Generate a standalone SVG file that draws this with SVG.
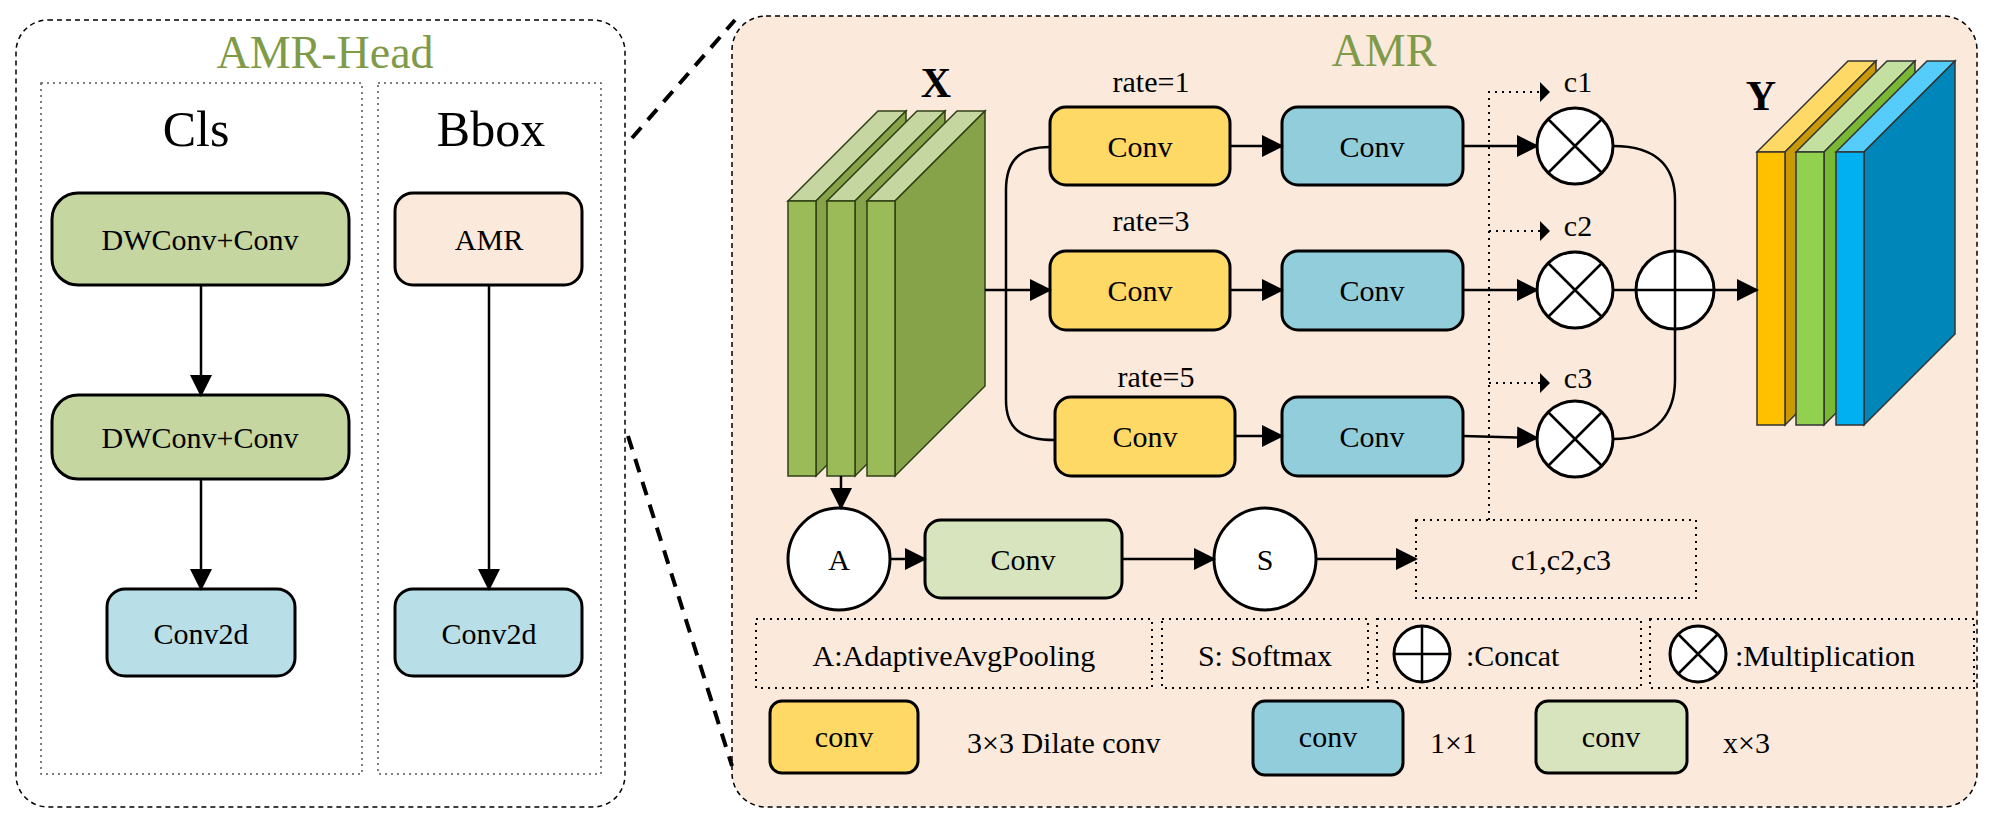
<svg xmlns="http://www.w3.org/2000/svg" width="1995" height="819" viewBox="0 0 1995 819">
<defs>
<marker id="ah" markerWidth="10" markerHeight="10" refX="9" refY="5" orient="auto" markerUnits="userSpaceOnUse" viewBox="0 0 10 10"><path d="M0,0 L10,5 L0,10 z" fill="#000"/></marker>
<marker id="ahb" markerWidth="22" markerHeight="22" refX="20" refY="11" orient="auto" markerUnits="userSpaceOnUse"><path d="M0,0 L22,11 L0,22 z" fill="#000"/></marker>
<style>
text{font-family:"Liberation Serif","Times New Roman",serif;fill:#000}
.t{font-size:30px;text-anchor:middle}
.box{stroke:#000;stroke-width:3}
.ln{stroke:#000;stroke-width:2.5;fill:none}
.dot{stroke:#555;stroke-width:1.5;stroke-dasharray:2 4;fill:none}
.dotb{stroke:#000;stroke-width:2;stroke-dasharray:2 5;fill:none}
.dash{stroke:#000;stroke-width:4;stroke-dasharray:14 10;fill:none}
.circ{fill:#fff;stroke:#000;stroke-width:3}
.green{fill:#7f9a48}
</style>
</defs>
<!-- left panel -->
<g id="amr-head">
<rect x="16" y="20" width="609" height="787" rx="32" fill="#fff" stroke="#000" stroke-width="1.5" stroke-dasharray="5 4"/>
<text x="325" y="68" class="green" font-size="46" text-anchor="middle" style="fill:#7f9a48">AMR-Head</text>
<rect x="41" y="83" width="321" height="691" class="dot"/>
<rect x="378" y="83" width="223" height="691" class="dot"/>
<text x="196" y="146" font-size="50" text-anchor="middle">Cls</text>
<text x="491" y="146" font-size="50" text-anchor="middle">Bbox</text>
</g>
<g id="dw1"><rect x="52" y="193" width="297" height="92" rx="26" fill="#c5d6a0" class="box"/><text x="200" y="250" class="t">DWConv+Conv</text></g>
<g id="dw2"><rect x="52" y="395" width="297" height="84" rx="26" fill="#c5d6a0" class="box"/><text x="200" y="448" class="t">DWConv+Conv</text></g>
<g id="conv2d-l"><rect x="107" y="589" width="188" height="87" rx="18" fill="#b8dfe8" class="box"/><text x="201" y="644" class="t">Conv2d</text></g>
<g id="amr-box"><rect x="395" y="193" width="187" height="92" rx="18" fill="#fbe9dc" class="box"/><text x="489" y="250" class="t">AMR</text></g>
<g id="conv2d-r"><rect x="395" y="589" width="187" height="87" rx="18" fill="#b8dfe8" class="box"/><text x="489" y="644" class="t">Conv2d</text></g>

<!-- right panel -->
<g id="amr">
<rect x="732" y="16" width="1245" height="791" rx="34" fill="#fbe9dc" stroke="#000" stroke-width="1.5" stroke-dasharray="5 4"/>
<text x="1384" y="66" font-size="46" text-anchor="middle" style="fill:#7f9a48">AMR</text>
</g>
<g id="X">
<text x="936" y="97" font-size="42" font-weight="bold" text-anchor="middle">X</text>
<g stroke="#2f3f14" stroke-width="1.5">
<polygon points="788,201 816,201 906,111 878,111" fill="#c5d6a0"/>
<polygon points="816,201 906,111 906,386 816,476" fill="#86a34a"/>
<rect x="788" y="201" width="28" height="275" fill="#9bbb59"/>
<polygon points="827,201 855,201 945,111 917,111" fill="#c5d6a0"/>
<polygon points="855,201 945,111 945,386 855,476" fill="#86a34a"/>
<rect x="827" y="201" width="28" height="275" fill="#9bbb59"/>
<polygon points="867,201 895,201 985,111 957,111" fill="#c5d6a0"/>
<polygon points="895,201 985,111 985,386 895,476" fill="#86a34a"/>
<rect x="867" y="201" width="28" height="275" fill="#9bbb59"/>
</g>
</g>
<g id="Y">
<text x="1761" y="110" font-size="42" font-weight="bold" text-anchor="middle">Y</text>
<g stroke="#333" stroke-width="1.5">
<polygon points="1757,152 1785,152 1876,61 1848,61" fill="#ffd966"/>
<polygon points="1785,152 1876,61 1876,334 1785,425" fill="#c99a06"/>
<rect x="1757" y="152" width="28" height="273" fill="#ffc000"/>
<polygon points="1796,152 1824,152 1915,61 1887,61" fill="#c4e0a0"/>
<polygon points="1824,152 1915,61 1915,334 1824,425" fill="#78b832"/>
<rect x="1796" y="152" width="28" height="273" fill="#92d050"/>
<polygon points="1836,152 1864,152 1955,61 1927,61" fill="#55ccfa"/>
<polygon points="1864,152 1955,61 1955,334 1864,425" fill="#0086b8"/>
<rect x="1836" y="152" width="28" height="273" fill="#00b0f0"/>
</g>
</g>
<g id="labels">
<text x="1151" y="92" class="t">rate=1</text>
<text x="1151" y="231" class="t">rate=3</text>
<text x="1156" y="387" class="t">rate=5</text>
<text x="1578" y="92" class="t">c1</text>
<text x="1578" y="236" class="t">c2</text>
<text x="1578" y="388" class="t">c3</text>
</g>
<g id="y1"><rect x="1050" y="107" width="180" height="78" rx="16" fill="#ffd966" class="box"/><text x="1140" y="157" class="t">Conv</text></g>
<g id="y2"><rect x="1050" y="251" width="180" height="79" rx="16" fill="#ffd966" class="box"/><text x="1140" y="301" class="t">Conv</text></g>
<g id="y3"><rect x="1055" y="397" width="180" height="79" rx="16" fill="#ffd966" class="box"/><text x="1145" y="447" class="t">Conv</text></g>
<g id="b1"><rect x="1282" y="107" width="181" height="78" rx="16" fill="#92cddc" class="box"/><text x="1372" y="157" class="t">Conv</text></g>
<g id="b2"><rect x="1282" y="251" width="181" height="79" rx="16" fill="#92cddc" class="box"/><text x="1372" y="301" class="t">Conv</text></g>
<g id="b3"><rect x="1282" y="397" width="181" height="79" rx="16" fill="#92cddc" class="box"/><text x="1372" y="447" class="t">Conv</text></g>
<g id="m1"><circle cx="1575" cy="146" r="38" class="circ"/><path d="M1548,119 L1602,173 M1602,119 L1548,173" class="ln"/></g>
<g id="m2"><circle cx="1575" cy="290" r="38" class="circ"/><path d="M1548,263 L1602,317 M1602,263 L1548,317" class="ln"/></g>
<g id="m3"><circle cx="1575" cy="439" r="38" class="circ"/><path d="M1548,412 L1602,466 M1602,412 L1548,466" class="ln"/></g>
<g id="plus"><circle cx="1675" cy="290" r="39" class="circ"/><path d="M1636,290 H1714 M1675,251 V329" class="ln"/></g>
<g id="A"><circle cx="839" cy="559" r="51" class="circ"/><text x="839" y="570" class="t">A</text></g>
<g id="gconv"><rect x="925" y="520" width="197" height="78" rx="16" fill="#d7e4bd" class="box"/><text x="1023" y="570" class="t">Conv</text></g>
<g id="S"><circle cx="1265" cy="559" r="51" class="circ"/><text x="1265" y="570" class="t">S</text></g>
<g id="cbox"><rect x="1416" y="520" width="280" height="78" fill="#ebf0e0" class="dotb"/><text x="1561" y="570" class="t">c1,c2,c3</text></g>

<g id="connectors">
<path d="M632,138 L735,20" class="dash"/>
<path d="M628,436 L732,766" class="dash"/>
<path d="M201,285 V395" class="ln" marker-end="url(#ahb)"/>
<path d="M201,479 V589" class="ln" marker-end="url(#ahb)"/>
<path d="M489,285 V589" class="ln" marker-end="url(#ahb)"/>
<path d="M985,290 H1050" class="ln" marker-end="url(#ahb)"/>
<path d="M1050,147 C1020,147 1006,160 1006,190 V400 C1006,428 1020,440 1055,440" class="ln"/>
<path d="M1230,146 H1282" class="ln" marker-end="url(#ahb)"/>
<path d="M1230,290 H1282" class="ln" marker-end="url(#ahb)"/>
<path d="M1235,436 H1282" class="ln" marker-end="url(#ahb)"/>
<path d="M1463,146 H1537" class="ln" marker-end="url(#ahb)"/>
<path d="M1463,290 H1537" class="ln" marker-end="url(#ahb)"/>
<path d="M1463,436 L1537,438" class="ln" marker-end="url(#ahb)"/>
<path d="M1613,146 C1660,146 1675,170 1675,200 V251" class="ln"/>
<path d="M1613,439 C1660,439 1675,410 1675,380 V329" class="ln"/>
<path d="M1613,290 H1636" class="ln"/>
<path d="M1714,290 H1757" class="ln" marker-end="url(#ahb)"/>
<path d="M841,476 V508" class="ln" marker-end="url(#ahb)"/>
<path d="M890,559 H925" class="ln" marker-end="url(#ahb)"/>
<path d="M1122,559 H1214" class="ln" marker-end="url(#ahb)"/>
<path d="M1316,559 H1416" class="ln" marker-end="url(#ahb)"/>
<path d="M1489,520 V92 H1546 M1489,231 H1546 M1489,383 H1546" class="dotb"/>
<path d="M1540,82 L1550,92 L1540,102 z M1540,221 L1550,231 L1540,241 z M1540,373 L1550,383 L1540,393 z" fill="#000"/>
</g>

<g id="legend">
<rect x="756" y="619" width="396" height="69" class="dotb"/>
<text x="954" y="666" class="t">A:AdaptiveAvgPooling</text>
<rect x="1162" y="619" width="206" height="69" class="dotb"/>
<text x="1265" y="666" class="t">S: Softmax</text>
<rect x="1377" y="619" width="264" height="69" class="dotb"/>
<circle cx="1422" cy="654" r="28" class="circ"/><path d="M1394,654 H1450 M1422,626 V682" class="ln"/>
<text x="1466" y="666" font-size="30">:Concat</text>
<rect x="1650" y="619" width="324" height="69" class="dotb"/>
<circle cx="1698" cy="654" r="28" class="circ"/><path d="M1678,634 L1718,674 M1718,634 L1678,674" class="ln"/>
<text x="1735" y="666" font-size="30">:Multiplication</text>
<rect x="770" y="701" width="148" height="72" rx="12" fill="#ffd966" class="box"/><text x="844" y="747" class="t">conv</text>
<text x="967" y="753" font-size="30">3×3 Dilate conv</text>
<rect x="1253" y="701" width="150" height="74" rx="12" fill="#92cddc" class="box"/><text x="1328" y="747" class="t">conv</text>
<text x="1430" y="753" font-size="30">1×1</text>
<rect x="1536" y="701" width="151" height="72" rx="12" fill="#d7e4bd" class="box"/><text x="1611" y="747" class="t">conv</text>
<text x="1723" y="753" font-size="30">x×3</text>
</g>
</svg>
